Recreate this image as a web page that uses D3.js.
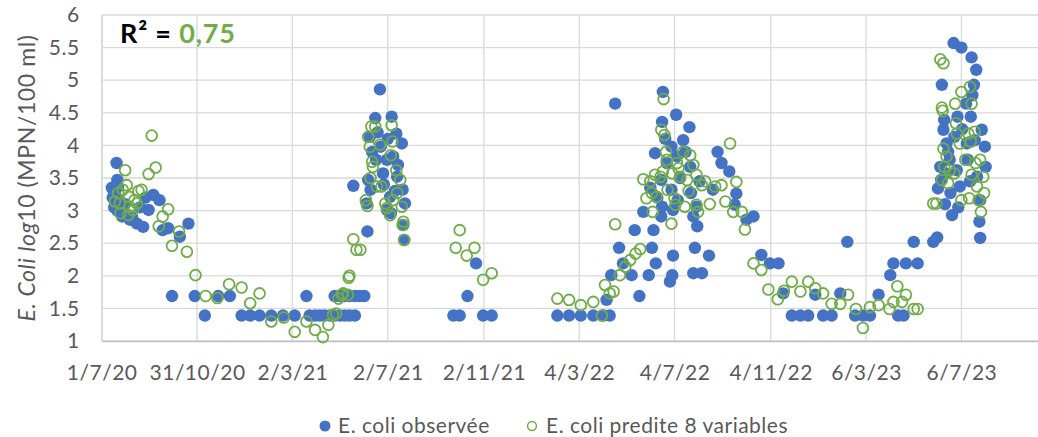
<!DOCTYPE html>
<html>
<head>
<meta charset="utf-8">
<script src="https://cdn.jsdelivr.net/npm/d3@7"></script>
<style>
  body { margin: 0; background: #fff; }
  svg text { font-family: Lato, "Open Sans", sans-serif; fill: #595959; }
</style>
</head>
<body>
<div id="chart"></div>
<script>
// E. coli observed vs predicted (8 variables)

var xTickLabels = ["1/7/20", "31/10/20", "2/3/21", "2/7/21", "2/11/21",
                   "4/3/22", "4/7/22", "4/11/22", "6/3/23", "6/7/23"];
var yTicks = [1, 1.5, 2, 2.5, 3, 3.5, 4, 4.5, 5, 5.5, 6];
var xStart = "2020-07-01", xEnd = "2023-10-12";
var seriesNames = ["E. coli observée", "E. coli predite 8 variables"];
var r2Value = "0,75";

var observed = [
  ["2020-07-14",3.35],["2020-07-15",3.20],["2020-07-17",3.05],["2020-07-18",3.29],["2020-07-20",3.73],
  ["2020-07-21",3.47],["2020-07-21",3.00],["2020-07-22",3.37],["2020-07-24",3.15],["2020-07-27",2.91],
  ["2020-07-29",2.95],["2020-07-31",3.10],["2020-08-06",2.86],["2020-08-09",2.90],["2020-08-15",2.80],
  ["2020-08-19",3.05],["2020-08-23",2.75],["2020-08-26",3.20],["2020-08-30",3.01],["2020-09-05",3.24],
  ["2020-09-13",3.16],["2020-09-17",2.70],["2020-09-24",2.73],["2020-09-29",1.69],["2020-10-09",2.60],
  ["2020-10-20",2.80],["2020-10-28",1.69],["2020-11-10",1.39],["2020-11-27",1.69],["2020-12-12",1.69],
  ["2020-12-27",1.39],["2021-01-07",1.39],["2021-01-19",1.39],["2021-02-03",1.39],["2021-02-18",1.39],
  ["2021-03-05",1.39],
  ["2021-03-20",1.69],["2021-03-24",1.39],["2021-03-31",1.39],["2021-04-06",1.39],["2021-04-12",1.39],
  ["2021-04-19",1.39],["2021-04-25",1.39],["2021-04-25",1.69],["2021-05-02",1.39],["2021-05-02",1.69],
  ["2021-05-08",1.39],["2021-05-08",1.69],["2021-05-14",1.39],["2021-05-14",1.69],["2021-05-21",1.39],
  ["2021-05-21",1.69],["2021-05-19",3.38],["2021-05-27",1.69],["2021-06-02",1.69],["2021-06-05",3.11],
  ["2021-06-06",2.68],["2021-06-07",3.47],["2021-06-09",4.13],["2021-06-10",3.32],["2021-06-12",3.90],
  ["2021-06-16",4.42],["2021-06-17",3.78],["2021-06-19",4.20],["2021-06-22",4.86],["2021-06-23",3.98],
  ["2021-06-26",3.57],["2021-06-27",3.40],["2021-07-01",3.01],["2021-07-01",3.78],["2021-07-02",4.10],
  ["2021-07-05",3.21],["2021-07-06",2.96],["2021-07-07",4.44],["2021-07-09",3.83],["2021-07-11",3.30],
  ["2021-07-13",4.18],["2021-07-14",3.52],["2021-07-15",3.70],["2021-07-20",4.03],["2021-07-21",3.32],
  ["2021-07-22",2.78],["2021-07-23",2.55],["2021-07-24",3.11],
  ["2021-09-24",1.39],["2021-10-02",1.39],["2021-10-12",1.69],["2021-10-23",2.19],["2021-11-01",1.39],
  ["2021-11-12",1.39],
  ["2022-02-04",1.39],["2022-02-19",1.39],["2022-03-06",1.39],["2022-03-22",1.39],["2022-04-04",1.39],
  ["2022-04-08",1.63],["2022-04-12",1.39],["2022-04-14",2.01],["2022-04-19",4.64],["2022-04-24",2.43],
  ["2022-04-29",2.19],["2022-05-10",2.01],["2022-05-14",2.70],["2022-05-20",1.69],["2022-05-25",2.98],
  ["2022-06-01",2.01],["2022-06-03",3.35],["2022-06-05",2.43],["2022-06-07",2.70],["2022-06-09",3.88],
  ["2022-06-10",2.19],["2022-06-12",3.20],["2022-06-17",3.47],["2022-06-17",2.91],["2022-06-18",3.06],
  ["2022-06-18",4.36],["2022-06-19",4.82],["2022-06-22",4.10],["2022-06-24",3.73],["2022-06-28",1.91],
  ["2022-06-30",3.32],["2022-06-30",3.98],["2022-07-01",2.01],["2022-07-02",2.31],["2022-07-02",3.01],
  ["2022-07-06",4.47],["2022-07-07",3.83],["2022-07-08",3.16],["2022-07-11",3.50],["2022-07-15",4.08],
  ["2022-07-18",3.90],["2022-07-23",4.28],["2022-07-24",3.67],["2022-07-25",3.27],["2022-07-28",2.04],
  ["2022-07-28",2.91],["2022-07-30",2.43],["2022-08-01",3.06],["2022-08-02",2.76],["2022-08-05",3.45],
  ["2022-08-08",2.04],["2022-08-17",2.31],["2022-08-22",3.32],["2022-08-28",3.90],["2022-09-02",3.73],
  ["2022-09-12",3.60],["2022-09-19",3.09],["2022-09-21",3.26],["2022-10-04",2.86],["2022-10-13",2.91],
  ["2022-10-23",2.32],
  ["2022-11-03",2.19],["2022-11-14",2.19],["2022-11-20",1.73],["2022-12-01",1.39],["2022-12-12",1.39],
  ["2022-12-22",1.39],["2022-12-31",1.71],["2023-01-10",1.39],["2023-01-21",1.39],["2023-02-01",1.73],
  ["2023-02-10",2.52],["2023-02-20",1.39],["2023-03-02",1.39],["2023-03-11",1.39],["2023-03-22",1.71],
  ["2023-04-06",2.01],["2023-04-10",2.19],["2023-04-16",1.39],["2023-04-23",1.39],["2023-04-26",2.19],
  ["2023-05-06",2.52],["2023-05-11",2.19],["2023-05-31",2.52],["2023-06-05",2.59],
  ["2023-06-06",3.34],["2023-06-09",3.67],["2023-06-10",3.47],["2023-06-11",4.93],["2023-06-13",4.24],
  ["2023-06-14",4.39],["2023-06-15",3.10],["2023-06-16",3.57],["2023-06-17",4.03],["2023-06-19",3.90],
  ["2023-06-21",3.78],["2023-06-22",3.27],["2023-06-24",2.93],["2023-06-26",5.57],["2023-06-27",4.13],
  ["2023-06-30",3.62],["2023-07-01",4.44],["2023-07-02",3.05],["2023-07-04",3.37],["2023-07-06",5.50],
  ["2023-07-07",4.25],["2023-07-12",4.64],["2023-07-13",4.03],["2023-07-14",3.78],["2023-07-17",3.45],
  ["2023-07-18",4.44],["2023-07-19",5.35],["2023-07-20",4.77],["2023-07-22",4.93],["2023-07-23",4.08],
  ["2023-07-25",5.16],["2023-07-26",3.52],["2023-07-29",2.83],["2023-07-30",2.58],["2023-07-30",3.16],
  ["2023-08-01",4.24],["2023-08-05",3.98],["2023-08-06",3.67]
];

var predicted = [
  ["2020-07-18",3.14],["2020-07-22",3.27],["2020-07-24",3.11],["2020-07-25",2.96],["2020-07-28",3.32],
  ["2020-07-31",3.62],["2020-08-02",3.39],["2020-08-04",2.93],["2020-08-05",3.21],["2020-08-06",3.06],
  ["2020-08-10",3.01],["2020-08-12",3.16],["2020-08-15",3.11],["2020-08-17",3.30],["2020-08-21",3.32],
  ["2020-08-30",3.56],["2020-09-03",4.15],["2020-09-08",3.66],["2020-09-12",2.76],["2020-09-17",2.91],
  ["2020-09-24",3.02],["2020-09-29",2.46],["2020-10-08",2.68],["2020-10-18",2.37],["2020-10-29",2.01],
  ["2020-11-11",1.69],["2020-11-26",1.66],["2020-12-11",1.87],["2020-12-27",1.82],["2021-01-07",1.58],
  ["2021-01-19",1.73],["2021-02-03",1.30],["2021-02-19",1.36],["2021-03-05",1.14],
  ["2021-03-20",1.30],["2021-03-31",1.17],["2021-04-10",1.06],["2021-04-17",1.25],["2021-04-23",1.40],
  ["2021-04-27",1.42],["2021-04-30",1.65],["2021-05-04",1.71],["2021-05-06",1.73],["2021-05-12",1.71],
  ["2021-05-13",1.97],["2021-05-14",2.00],["2021-05-19",2.56],["2021-05-23",2.40],["2021-05-28",2.40],
  ["2021-06-04",3.16],["2021-06-06",3.07],["2021-06-07",4.13],["2021-06-09",3.98],["2021-06-10",3.50],
  ["2021-06-11",4.29],["2021-06-12",3.75],["2021-06-13",3.67],["2021-06-16",4.29],["2021-06-18",3.37],
  ["2021-06-22",4.01],["2021-06-24",3.37],["2021-06-29",3.11],["2021-07-01",3.04],["2021-07-05",2.93],
  ["2021-07-06",3.85],["2021-07-07",4.31],["2021-07-08",4.06],["2021-07-09",3.16],["2021-07-13",3.62],
  ["2021-07-14",3.27],["2021-07-18",3.47],["2021-07-20",3.06],["2021-07-21",2.78],["2021-07-22",2.83],
  ["2021-07-23",2.55],
  ["2021-09-27",2.43],["2021-10-02",2.70],["2021-10-11",2.31],["2021-10-21",2.43],["2021-11-01",1.94],
  ["2021-11-12",2.04],
  ["2022-02-04",1.65],["2022-02-19",1.63],["2022-03-06",1.55],["2022-03-22",1.60],["2022-04-02",1.39],
  ["2022-04-06",1.86],["2022-04-12",1.73],["2022-04-17",1.76],["2022-04-19",2.79],["2022-04-25",2.01],
  ["2022-05-02",2.14],["2022-05-08",2.24],["2022-05-15",2.34],["2022-05-21",2.41],["2022-05-25",3.48],
  ["2022-05-29",3.19],["2022-06-03",3.45],["2022-06-05",3.27],["2022-06-06",2.98],["2022-06-09",3.55],
  ["2022-06-11",3.21],["2022-06-16",3.52],["2022-06-17",4.24],["2022-06-19",3.60],["2022-06-20",4.71],
  ["2022-06-21",4.16],["2022-06-23",3.90],["2022-06-24",3.78],["2022-06-25",3.32],["2022-06-30",2.80],
  ["2022-07-01",3.57],["2022-07-04",3.19],["2022-07-05",3.09],["2022-07-07",3.73],["2022-07-09",3.65],
  ["2022-07-11",3.52],["2022-07-15",3.90],["2022-07-17",3.06],["2022-07-20",3.47],["2022-07-22",3.30],
  ["2022-07-24",3.85],["2022-07-28",3.70],["2022-08-01",3.09],["2022-08-01",3.55],["2022-08-03",2.98],
  ["2022-08-08",3.39],["2022-08-12",3.45],["2022-08-18",3.10],["2022-08-25",3.37],["2022-09-02",3.39],
  ["2022-09-07",3.14],["2022-09-13",4.03],["2022-09-17",2.98],["2022-09-21",3.44],["2022-09-28",2.98],
  ["2022-10-02",2.71],["2022-10-13",2.19],["2022-10-23",2.09],["2022-11-01",1.79],
  ["2022-11-13",1.64],["2022-11-21",1.77],["2022-12-01",1.91],["2022-12-12",1.76],["2022-12-22",1.91],
  ["2022-12-31",1.81],["2023-01-10",1.73],["2023-01-21",1.57],["2023-02-01",1.57],["2023-02-11",1.71],
  ["2023-02-21",1.49],["2023-03-02",1.20],["2023-03-11",1.52],["2023-03-22",1.55],["2023-04-05",1.49],
  ["2023-04-10",1.60],["2023-04-15",1.84],["2023-04-21",1.60],["2023-04-26",1.71],["2023-05-06",1.49],
  ["2023-05-11",1.49],
  ["2023-05-31",3.11],["2023-06-04",3.11],["2023-06-09",5.32],["2023-06-11",4.58],["2023-06-11",3.47],
  ["2023-06-12",4.53],["2023-06-13",5.26],["2023-06-13",3.95],["2023-06-14",3.67],["2023-06-17",3.83],
  ["2023-06-19",3.42],["2023-06-21",3.62],["2023-06-27",3.57],["2023-06-28",4.64],["2023-06-29",4.34],
  ["2023-06-30",4.18],["2023-07-04",4.03],["2023-07-06",4.82],["2023-07-06",3.16],["2023-07-11",3.78],
  ["2023-07-15",4.18],["2023-07-16",3.19],["2023-07-17",4.90],["2023-07-18",4.06],["2023-07-19",4.64],
  ["2023-07-19",3.55],["2023-07-23",4.21],["2023-07-24",3.73],["2023-07-26",3.37],["2023-07-28",3.16],
  ["2023-07-30",3.78],["2023-07-31",2.98],["2023-08-03",3.52],["2023-08-04",3.27]
];

var blue = "#4472C4", green = "#70AD47", grid = "#d9d9d9";
var W = 1038, H = 437;
var margin = {top: 15, right: 0, bottom: 96, left: 101.7};
var parseIso = d3.utcParse("%Y-%m-%d");
var parseLabel = d3.utcParse("%d/%m/%y");

var svg = d3.select("#chart").append("svg")
    .attr("width", W)
    .attr("height", H);

var x = d3.scaleUtc()
    .domain([parseIso(xStart), parseIso(xEnd)])
    .range([margin.left, W - margin.right]);
var y = d3.scaleLinear()
    .domain([1, 6])
    .range([H - margin.bottom, margin.top]);

var tickDates = xTickLabels.map(function(s){ return parseLabel(s); });

// gridlines
svg.append("g")
  .selectAll("line")
  .data(yTicks)
  .enter().append("line")
    .attr("x1", margin.left).attr("x2", W - margin.right)
    .attr("y1", function(d){ return y(d); }).attr("y2", function(d){ return y(d); })
    .style("stroke", grid).style("stroke-width", 1.3);
svg.append("g")
  .selectAll("line")
  .data(tickDates)
  .enter().append("line")
    .attr("x1", function(d){ return x(d); }).attr("x2", function(d){ return x(d); })
    .attr("y1", y(6)).attr("y2", y(1))
    .style("stroke", grid).style("stroke-width", 1.3);

// x axis
var xAxis = svg.append("g")
    .attr("transform", "translate(0," + y(1) + ")")
    .call(d3.axisBottom(x).tickValues(tickDates).tickSize(0).tickPadding(24)
      .tickFormat(function(d, i){ return xTickLabels[i]; }));
xAxis.select(".domain").style("stroke", "#bfbfbf").style("stroke-width", 1.3);
xAxis.selectAll("text").style("font-size", "21px").style("letter-spacing", "0.5px")
    .style("font-family", "Lato, sans-serif").attr("fill", "#595959");

// y axis
var yAxis = svg.append("g")
    .attr("transform", "translate(" + margin.left + ",0)")
    .call(d3.axisLeft(y).tickValues(yTicks).tickSize(0).tickPadding(22)
      .tickFormat(function(d){ return String(d); }));
yAxis.select(".domain").style("stroke", grid).style("stroke-width", 1.3);
yAxis.selectAll("text").style("font-size", "21px").style("letter-spacing", "0.5px")
    .style("font-family", "Lato, sans-serif").attr("fill", "#595959");

// points
svg.append("g")
  .selectAll("circle")
  .data(observed)
  .enter().append("circle")
    .attr("cx", function(d){ return x(parseIso(d[0])); })
    .attr("cy", function(d){ return y(d[1]); })
    .attr("r", 6.2)
    .style("fill", blue);

svg.append("g")
  .selectAll("circle")
  .data(predicted)
  .enter().append("circle")
    .attr("cx", function(d){ return x(parseIso(d[0])); })
    .attr("cy", function(d){ return y(d[1]); })
    .attr("r", 5.4)
    .style("fill", "none")
    .style("stroke", green)
    .style("stroke-width", 1.8);

// R² label
var r2 = svg.append("text")
    .attr("x", 120).attr("y", 43)
    .style("font-size", "27px").style("font-weight", "bold").style("letter-spacing", "0.8px");
r2.append("tspan").text("R² = ").style("fill", "#000");
r2.append("tspan").text(r2Value).style("fill", green);

// y axis title
var yt = svg.append("text")
    .attr("transform", "translate(35," + ((y(1) + y(6)) / 2) + ") rotate(-90)")
    .attr("text-anchor", "middle")
    .style("font-size", "23px").style("letter-spacing", "0.6px");
yt.append("tspan").text("E. Coli").style("font-style", "italic");
yt.append("tspan").text(" log").style("font-style", "italic");
yt.append("tspan").text("10 (MPN/100 ml)");

// legend
var legend = svg.append("g").classed("legend", true);
legend.append("circle").attr("cx", 325).attr("cy", 426).attr("r", 5.5).style("fill", blue);
legend.append("text").attr("x", 338).attr("y", 433).text(seriesNames[0])
    .style("font-size", "21px").style("letter-spacing", "0.5px");
legend.append("circle").attr("cx", 532).attr("cy", 426).attr("r", 4.4)
    .style("fill", "none").style("stroke", green).style("stroke-width", 1.5);
legend.append("text").attr("x", 546).attr("y", 433).text(seriesNames[1])
    .style("font-size", "21px").style("letter-spacing", "0.5px");
</script>
</body>
</html>
